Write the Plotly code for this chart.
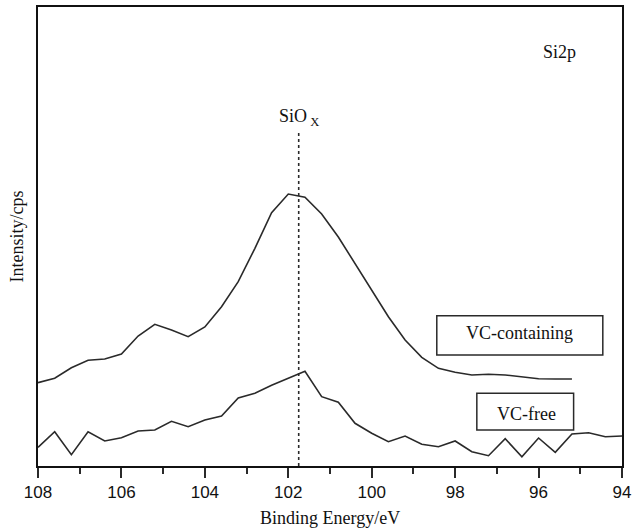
import plotly.graph_objects as go

# Binding energy grids (eV)
be_containing = [108.0 - 0.4 * i for i in range(33)]  # 108.0 -> 95.2
be_free = [108.0 - 0.4 * i for i in range(36)]        # 108.0 -> 94.0

# Intensity (arbitrary cps)
vc_containing = [83.3, 87.7, 98.3, 105.7, 107, 112, 130, 141.7, 136, 129.3, 139,
                 159.3, 184.3, 217.7, 253.3, 272, 268.7, 252, 229, 202.7, 176,
                 149.3, 126, 108.7, 97.7, 93.7, 91, 91.7, 91, 89.3, 87.3, 87, 87]
vc_free = [18.7, 34.3, 11.3, 34.3, 25, 28.3, 35, 36, 44.7, 39.3, 46, 50, 68,
           72.7, 80.7, 87.3, 94.7, 69.3, 63.7, 42.7, 32.7, 24.3, 30, 21.7, 19.3,
           25, 14.3, 10.3, 27.3, 9.3, 28, 13.7, 32, 33.3, 29.3, 30]

siox_position = 101.75
siox_line_top = 333

line_color = "#2a2a2a"
serif = "Liberation Serif, Times New Roman, serif"
sans = "Liberation Sans, Arial, sans-serif"

fig = go.Figure()
fig.add_trace(go.Scatter(x=be_containing, y=vc_containing, mode="lines",
                         line=dict(color=line_color, width=1.6), name="VC-containing",
                         showlegend=False))
fig.add_trace(go.Scatter(x=be_free, y=vc_free, mode="lines",
                         line=dict(color=line_color, width=1.6), name="VC-free",
                         showlegend=False))
fig.add_trace(go.Scatter(x=[siox_position, siox_position], y=[0, siox_line_top], mode="lines",
                         line=dict(color=line_color, width=1.6, dash="dot"),
                         showlegend=False))

# label boxes
fig.add_shape(type="rect", xref="x", yref="y", x0=98.44, x1=94.46, y0=111, y1=150.3,
              line=dict(color=line_color, width=1.5), fillcolor="white")
fig.add_shape(type="rect", xref="x", yref="y", x0=97.48, x1=95.16, y0=36, y1=72.7,
              line=dict(color=line_color, width=1.5), fillcolor="white")

fig.add_annotation(x=96.45, y=132.7, xref="x", yref="y", text="VC-containing",
                   showarrow=False, font=dict(family=serif, size=18, color="#111"))
fig.add_annotation(x=96.3, y=52, xref="x", yref="y", text="VC-free",
                   showarrow=False, font=dict(family=serif, size=18, color="#111"))
fig.add_annotation(x=siox_position, y=siox_line_top, xref="x", yref="y",
                   text="SiO<sub> X</sub>", showarrow=False, yanchor="bottom", yshift=2,
                   font=dict(family=serif, size=18, color="#111"))
fig.add_annotation(x=95.5, y=414, xref="x", yref="y", text="Si2p",
                   showarrow=False, font=dict(family=serif, size=18, color="#111"))

# axis titles
fig.add_annotation(x=0.5, y=-0.113, xref="paper", yref="paper", text="Binding Energy/eV",
                   showarrow=False, yanchor="middle",
                   font=dict(family=serif, size=18, color="#111"))
fig.add_annotation(x=-0.036, y=0.50, xref="paper", yref="paper", text="Intensity/cps",
                   showarrow=False, textangle=-90, xanchor="center", yanchor="middle",
                   font=dict(family=serif, size=18, color="#111"))

fig.update_xaxes(range=[108, 94], tickmode="linear", tick0=94, dtick=2,
                 ticks="outside", ticklen=10, tickwidth=1.5, tickcolor=line_color,
                 minor=dict(dtick=1, ticks="outside", ticklen=6, tickwidth=1.5, tickcolor=line_color),
                 showline=True, linecolor="#111", linewidth=2, mirror=True,
                 showgrid=False, zeroline=False, automargin=False,
                 tickfont=dict(family=sans, size=17, color="#111"))
fig.update_yaxes(range=[0, 459], showticklabels=False, ticks="",
                 showline=True, linecolor="#111", linewidth=2, mirror=True,
                 showgrid=False, zeroline=False, automargin=False)

fig.update_layout(width=632, height=530, margin=dict(l=38, r=10, t=7, b=64),
                  plot_bgcolor="white", paper_bgcolor="white")

fig.write_html("out.html", config={"displayModeBar": False},
               post_script="document.body.style.margin='0px';document.body.style.overflow='hidden';")
